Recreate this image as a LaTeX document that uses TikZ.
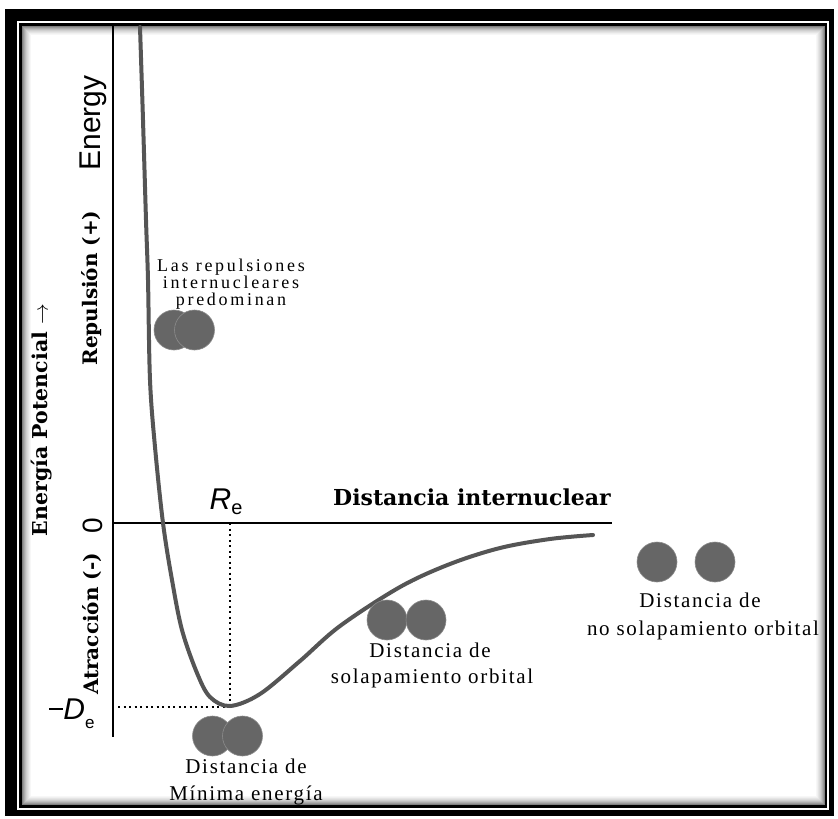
\documentclass[tikz,border=0pt]{standalone}
\usepackage{fontspec}
\newfontfamily\slabfont{DejaVu Serif}
\newfontfamily\typefont[LetterSpace=8]{Liberation Serif}
\newfontfamily\widetypefont[LetterSpace=15]{Liberation Serif}
\newfontfamily\helvfont{Liberation Sans}
\definecolor{nucleus}{HTML}{666666}
\definecolor{rim}{HTML}{8C8C8C}
\definecolor{curvegray}{HTML}{555555}
\begin{document}
\begin{tikzpicture}[x=1pt,y=-1pt,
  axisline/.style={black,line width=2.2pt},
  guide/.style={black,line width=2pt,dash pattern=on 2pt off 3.5pt},
  potential/.style={curvegray,line width=4pt,line cap=round},
  atom/.style={circle,fill=nucleus,draw=rim,line width=0.6pt,minimum size=40pt,inner sep=0pt},
  boldlbl/.style={font=\slabfont\bfseries\fontsize{20}{24}\selectfont,inner sep=0pt},
  caption/.style={font=\typefont\fontsize{21}{27}\selectfont,inner sep=0pt,anchor=base},
  smallcaption/.style={font=\widetypefont\fontsize{18}{18}\selectfont,inner sep=0pt,anchor=base},
  sanslbl/.style={font=\helvfont,inner sep=0pt}]

\useasboundingbox (0,0) rectangle (838,819);
\fill[white] (0,0) rectangle (838,819);

% frame: heavy outer band, thin inner rule and a soft inner shadow
\fill[black] (5,9) rectangle (834,816);
\fill[white] (17,20.5) rectangle (828.5,810);
\foreach \i/\c in {1/50,2/40,3/32,4/25,5/19,6/14,7/10,8/6,9/3}
  \draw[black!\c,line width=1pt] ({21+\i},{25+\i}) rectangle ({825-\i},{805.5-\i});
\draw[black,line width=2.5pt] (20.5,24.5) rectangle (826,806.5);

% axes
\coordinate (ytop) at (113,26);
\coordinate (ybot) at (113,737);
\coordinate (origin) at (113,523);
\coordinate (xend) at (612,523);
\draw[axisline] (ytop) -- (ybot);
\draw[axisline] (origin) -- (xend);

% equilibrium guides
\coordinate (emin) at (230,706.5);
\coordinate (eaxis) at (230,523);
\coordinate (dleft) at (118,706.5);
\draw[guide] (eaxis) -- (emin);
\draw[guide] (dleft) -- (emin);

% potential energy curve
\draw[potential] plot[smooth,tension=0.55] coordinates {
  (140,27) (143,120) (146,220) (148,280) (150,380) (155,447) (163,523)
  (172,580) (182,630) (197,673) (210,697) (230,706) (260,694) (300,661)
  (340,626) (400,587) (450,564) (500,548) (550,539) (593,535)};

% axis labels
\node[boldlbl,font=\slabfont\bfseries\fontsize{22}{24}\selectfont] (xlabel) at (472,497) {Distancia internuclear};
\node[boldlbl,font=\slabfont\bfseries\fontsize{20.5}{24}\selectfont,rotate=90] (elabel) at (42,420) {Energía Potencial $\rightarrow$};
\node[boldlbl,rotate=90] (replabel) at (92,288) {Repulsión (+)};
\node[boldlbl,rotate=90] (attlabel) at (92,624) {Atracción (-)};
\node[sanslbl,font=\helvfont\fontsize{30}{30}\selectfont,rotate=90] (energy) at (93,123) {Energy};
\node[sanslbl,font=\helvfont\fontsize{28}{28}\selectfont,rotate=90] (zero) at (93,526) {0};
\node[sanslbl,font=\helvfont\itshape\fontsize{30}{30}\selectfont,anchor=base] (re) at (226,509) {R\raisebox{-5pt}{\fontsize{20}{20}\selectfont\upshape e}};
\node[sanslbl,font=\helvfont\itshape\fontsize{30}{30}\selectfont,anchor=base] (de) at (72,719) {\rule[9pt]{14pt}{1.6pt}D\raisebox{-9pt}{\fontsize{17}{17}\selectfont\upshape e}};

% nuclei pairs
\node[atom] (rA) at (174,330) {};
\node[atom] (rB) at (194.5,330) {};
\node[atom] (mA) at (212.5,736) {};
\node[atom] (mB) at (242.5,736) {};
\node[atom] (oA) at (387,620) {};
\node[atom] (oB) at (426,620) {};
\node[atom] (sA) at (657,562) {};
\node[atom] (sB) at (715,562) {};

% captions
\node[smallcaption] (rep1) at (231,271) {Las repulsiones};
\node[smallcaption] (rep2) at (231,288) {internucleares};
\node[smallcaption] (rep3) at (231,305) {predominan};
\node[caption] (min1) at (246,773) {Distancia de};
\node[caption] (min2) at (246,800) {Mínima energía};
\node[caption] (ov1) at (430,657) {Distancia de};
\node[caption] (ov2) at (432,683) {solapamiento orbital};
\node[caption] (sep1) at (700,607) {Distancia de};
\node[caption] (sep2) at (703,635) {no solapamiento orbital};
\end{tikzpicture}
\end{document}
